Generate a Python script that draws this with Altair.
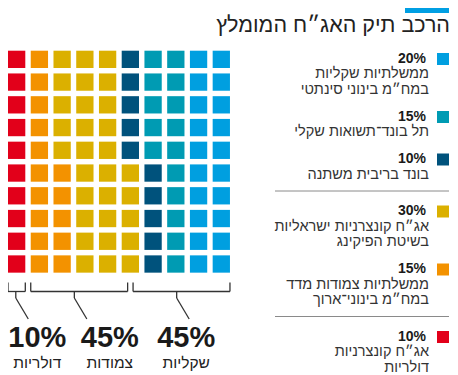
import altair as alt
import pandas as pd

# ---------------- data ----------------
title = "הרכב תיק האג״ח המומלץ"
categories = ["קונצרניות דולריות", "ממשלתיות צמודות", "קונצרניות ישראליות",
              "בונד ריבית משתנה", "תל בונד שקלי", "ממשלתיות שקליות"]
values = [10, 15, 30, 10, 15, 20]
colors = ["#e2001a", "#f39200", "#dbb000", "#00527c", "#009bb3", "#009fe0"]
desc_lines = [
    ["אג״ח קונצרניות", "דולריות"],
    ["ממשלתיות צמודות מדד", "במח״מ בינוני־ארוך"],
    ["אג״ח קונצרניות ישראליות", "בשיטת הפיקינג"],
    ["בונד בריבית משתנה"],
    ["תל בונד־תשואות שקלי"],
    ["ממשלתיות שקליות", "במח״מ בינוני סינתטי"],
]
cat_group = ["דולריות", "צמודות", "צמודות", "שקליות", "שקליות", "שקליות"]
groups = ["דולריות", "צמודות", "שקליות"]

# ---------------- layout (page px) ----------------
W, H = 442, 367
NUMFONT = "Liberation Sans"
HEBFONT = "Liberation Sans"
P = 22.74          # waffle pitch
S = 17.3           # square side
WX0 = 8            # left edge of first column
WY0 = 50.7         # top edge of top row
GAP_PCT = (P - S) / P * 10
BR_TOP, BR_Y, LEAD_Y, LEAD_END_Y = 282.5, 291.5, 298, 319
LEAD_DX = 12.5
LABEL_DX = [9, 23, -3]
RX = -5            # right block shift to fit in the page
LEG_SQ_X, LEG_PCT_X, LEG_TXT_X = 448 + RX, 431 + RX, 434 + RX
LEG_Y0, LINE_H, ENTRY_GAP, SEP_A, SEP_B = 62.5, 15.5, 27, 12.5, 24

px_x = alt.Scale(domain=[8, 8 + W], range=[0, W])
px_y = alt.Scale(domain=[8, 8 + H], range=[0, H])
pct_x = alt.Scale(domain=[0, 100], range=[WX0 - 8, WX0 - 8 + 10 * P])
col_x = alt.Scale(domain=[0, 9], range=[WX0 - 8 + S / 2, WX0 - 8 + S / 2 + 9 * P])
row_y = alt.Scale(domain=[0, 9], range=[WY0 - 8 + S / 2 + 9 * P, WY0 - 8 + S / 2])
color_scale = alt.Scale(domain=categories, range=colors)

# waffle cells: column-major, bottom to top
cells = []
k = 0
for c, v in zip(categories, values):
    for _ in range(v):
        cells.append({"cat": c, "col": k // 10, "row": k % 10})
        k += 1
waffle = alt.Chart(pd.DataFrame(cells)).mark_square(size=S * S, opacity=1).encode(
    x=alt.X("col:Q", scale=col_x, axis=None),
    y=alt.Y("row:Q", scale=row_y, axis=None),
    color=alt.Color("cat:N", scale=color_scale, legend=None),
)

# brackets per group
gsum = [sum(v for v, g in zip(values, cat_group) if g == gg) for gg in groups]
segs, glabels = [], []
start = 0
lead_dx_pct = LEAD_DX / P * 10
for i, (g, s) in enumerate(zip(groups, gsum)):
    a, b = start, start + s - GAP_PCT
    lx = a + 0.45 * (b - a)
    segs += [
        {"x": a, "x2": b, "y": BR_Y, "y2": BR_Y},
        {"x": a, "x2": a, "y": BR_TOP, "y2": BR_Y},
        {"x": b, "x2": b, "y": BR_TOP, "y2": BR_Y},
        {"x": lx, "x2": lx, "y": BR_Y, "y2": LEAD_Y},
        {"x": lx, "x2": lx + lead_dx_pct, "y": LEAD_Y, "y2": LEAD_END_Y},
    ]
    cx = lx + lead_dx_pct + LABEL_DX[i] / P * 10
    glabels.append({"x": cx, "pct": f"{s}%", "name": g})
    start += s
seg_df = pd.DataFrame(segs)
brackets = alt.Chart(seg_df).mark_rule(color="#333333", strokeWidth=1.3).encode(
    x=alt.X("x:Q", scale=pct_x, axis=None), x2="x2:Q",
    y=alt.Y("y:Q", scale=px_y, axis=None), y2="y2:Q",
)
gl_df = pd.DataFrame(glabels)
gl_df["y_pct"] = 347
gl_df["y_name"] = 367.5
g_pct = alt.Chart(gl_df).mark_text(font=NUMFONT, fontSize=29, fontWeight="bold",
                                   color="#1a1a1a", align="center", baseline="alphabetic").encode(
    x=alt.X("x:Q", scale=pct_x, axis=None),
    y=alt.Y("y_pct:Q", scale=px_y, axis=None), text="pct:N")
g_name = alt.Chart(gl_df).mark_text(font=HEBFONT, fontSize=15.5, color="#222222",
                                    align="center", baseline="alphabetic").encode(
    x=alt.X("x:Q", scale=pct_x, axis=None),
    y=alt.Y("y_name:Q", scale=px_y, axis=None), text="name:N")

# legend (reverse order)
leg_rows, line_rows, sep_rows = [], [], []
y = LEG_Y0
order = list(range(len(categories)))[::-1]
for j, i in enumerate(order):
    leg_rows.append({"cat": categories[i], "pct": f"{values[i]}%", "y": y,
                     "ysq": y - 3.5, "x": LEG_PCT_X, "xsq": LEG_SQ_X})
    for n, t in enumerate(desc_lines[i]):
        line_rows.append({"t": t, "y": y + LINE_H * (n + 1), "x": LEG_TXT_X})
    last = y + LINE_H * len(desc_lines[i])
    if j + 1 < len(order):
        nxt = order[j + 1]
        if cat_group[nxt] != cat_group[i]:
            sep_rows.append({"x": 280 + RX, "x2": 454 + RX, "y": last + SEP_A})
            y = last + SEP_A + SEP_B
        else:
            y = last + ENTRY_GAP
leg_df = pd.DataFrame(leg_rows)
leg_sq = alt.Chart(leg_df).mark_square(size=144, opacity=1).encode(
    x=alt.X("xsq:Q", scale=px_x, axis=None),
    y=alt.Y("ysq:Q", scale=px_y, axis=None),
    color=alt.Color("cat:N", scale=color_scale, legend=None))
leg_pct = alt.Chart(leg_df).mark_text(font=NUMFONT, fontSize=14, fontWeight="bold", color="#1a1a1a",
                                      align="right", baseline="alphabetic").encode(
    x=alt.X("x:Q", scale=px_x, axis=None),
    y=alt.Y("y:Q", scale=px_y, axis=None), text="pct:N")
leg_txt = alt.Chart(pd.DataFrame(line_rows)).mark_text(font=HEBFONT, fontSize=14.5, color="#333333",
                                                       align="right", baseline="alphabetic").encode(
    x=alt.X("x:Q", scale=px_x, axis=None),
    y=alt.Y("y:Q", scale=px_y, axis=None), text="t:N")
seps = alt.Chart(pd.DataFrame(sep_rows)).mark_rule(color="#8a8a8a", strokeWidth=1).encode(
    x=alt.X("x:Q", scale=px_x, axis=None), x2="x2:Q",
    y=alt.Y("y:Q", scale=px_y, axis=None))

# title
title_df = pd.DataFrame([{"t": title, "x": 455 + RX, "y": 32, "bx": 410 + RX, "bx2": 454 + RX,
                          "by": 8, "by2": 13}])
title_txt = alt.Chart(title_df).mark_text(font=HEBFONT, fontSize=21.5, color="#222222",
                                          align="right", baseline="alphabetic").encode(
    x=alt.X("x:Q", scale=px_x, axis=None),
    y=alt.Y("y:Q", scale=px_y, axis=None), text="t:N")
title_bar = alt.Chart(title_df).mark_rect(color="#009fe3").encode(
    x=alt.X("bx:Q", scale=px_x, axis=None), x2="bx2:Q",
    y=alt.Y("by:Q", scale=px_y, axis=None), y2="by2:Q")

chart = alt.layer(
    waffle, brackets, g_pct, g_name, leg_sq, leg_pct, leg_txt, seps, title_bar, title_txt
).resolve_scale(x="independent", y="independent").properties(
    width=W, height=H, padding=0, autosize=alt.AutoSizeParams(type="none"),
    background="white",
).configure_view(stroke=None)

chart.save("out.html", embed_options={"renderer": "svg", "actions": False})
